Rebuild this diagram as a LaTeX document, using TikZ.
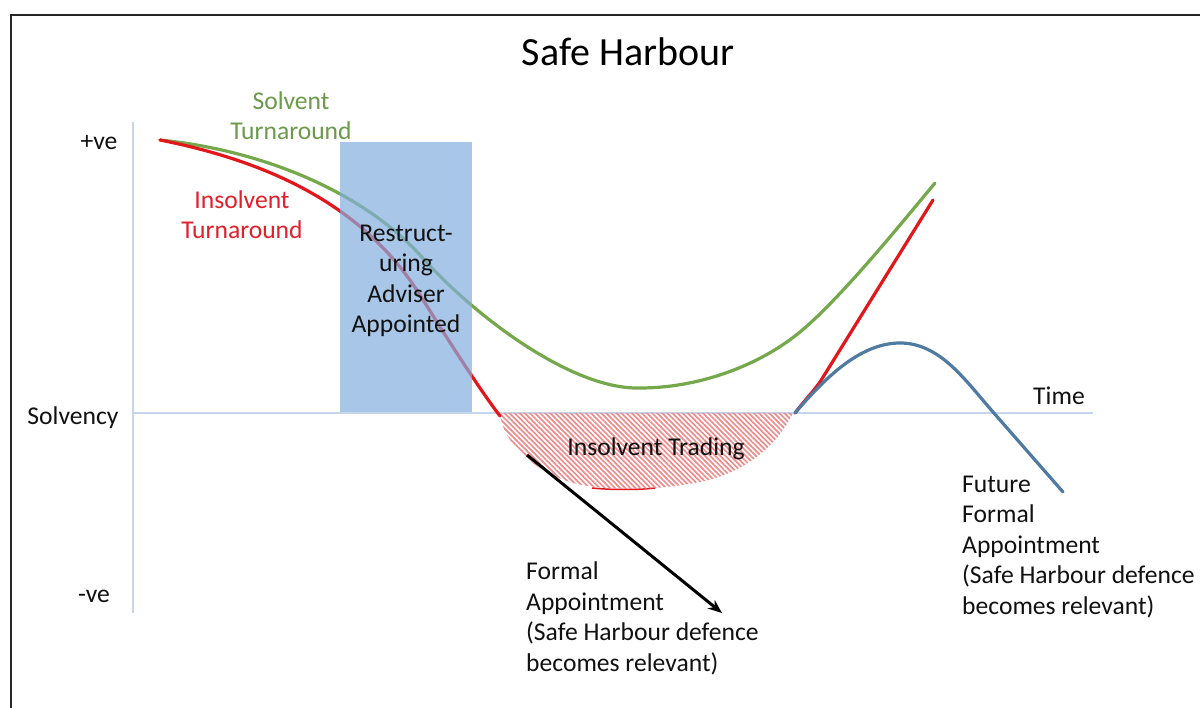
\documentclass[tikz,border=0pt]{standalone}
\usepackage{fontspec}
\setmainfont{Carlito}
\usetikzlibrary{patterns.meta,arrows.meta}
\definecolor{gline}{HTML}{74A84A}
\definecolor{gtext}{HTML}{6A9A4A}
\definecolor{rline}{HTML}{E3161C}
\definecolor{rtext}{HTML}{E0202A}
\definecolor{bline}{HTML}{4F7AA2}
\definecolor{boxfill}{HTML}{84AEDE}
\definecolor{axisc}{HTML}{C6D6EA}
\definecolor{hatchc}{HTML}{EE8C8C}
\definecolor{txt}{HTML}{111111}
\begin{document}
\begin{tikzpicture}[x=1pt,y=-1pt,
  lbl/.style={font=\fontsize{25.6}{30.5}\selectfont, text=txt, inner sep=0pt, align=center, anchor=base},
  lbll/.style={font=\fontsize{25.6}{30.5}\selectfont, text=txt, inner sep=0pt, align=left, anchor=base west},
  curve/.style={line width=3.2pt, line cap=round},
  axisline/.style={draw=axisc, line width=1.5pt}]
\useasboundingbox (0,0) rectangle (1200,708);
\fill[white] (0,0) rectangle (1200,708);
\draw[line width=2pt, black!85] (11,708) -- (11,15) -- (1200,15);

% axes
\coordinate (ytop) at (133,122);
\coordinate (ybot) at (133,613);
\coordinate (xl) at (133,413);
\coordinate (xr) at (1093,413);
\draw[axisline] (ytop) -- (ybot);
\draw[axisline] (xl) -- (xr);

% insolvent trading region
\draw[rline, line width=1.5pt] (592,488) .. controls (610,490) and (640,490) .. (655,488);
\path[pattern={Lines[angle=-45,distance=3.6pt,line width=1.7pt]}, pattern color=hatchc]
  (500,413) .. controls (502,440) and (530,470) .. (573,483)
  .. controls (600,490) and (650,492) .. (700,482)
  .. controls (740,474) and (775,450) .. (793,413) -- cycle;

% curves
\draw[curve, gline] (160,140) .. controls (260,150) and (360,190) .. (420,255)
  .. controls (470,312) and (570,390) .. (640,388)
  .. controls (700,388) and (760,365) .. (800,332)
  .. controls (840,299) and (900,225) .. (935,183);
\draw[curve, rline] (160,140) .. controls (260,160) and (360,200) .. (420,295)
  .. controls (450,343) and (480,390) .. (500,416);
\draw[curve, rline] (795,413) .. controls (805,400) and (812,393) .. (820,382) -- (933,200);
\draw[curve, bline] (795,413) .. controls (825,378) and (860,343) .. (900,343)
  .. controls (940,343) and (965,380) .. (993,412) -- (1063,492);

% restructuring box
\fill[boxfill, fill opacity=0.7] (340,142) rectangle (472,412);
\node[lbl] (rest) at (406,333) {Restruct-\\uring\\Adviser\\Appointed};

% labels
\node[font=\fontsize{40}{48}\selectfont, text=black, inner sep=0pt, anchor=base] (title) at (628,66) {Safe Harbour};
\node[lbl, text=gtext] (solv) at (291,140) {Solvent\\Turnaround};
\node[lbl, text=rtext] (insolv) at (242,239) {Insolvent\\Turnaround};
\node[lbl] (pve) at (99,150) {+ve};
\node[lbl] (solvency) at (73,425) {Solvency};
\node[lbl] (nve) at (94,602) {-ve};
\node[lbl] (time) at (1059,405) {Time};
\node[lbl] (itrade) at (656,456) {Insolvent Trading};
\node[lbll] (formal) at (526,671) {Formal\\Appointment\\(Safe Harbour defence\\becomes relevant)};
\node[lbll] (future) at (962,614) {Future\\Formal\\Appointment\\(Safe Harbour defence\\becomes relevant)};

% arrow
\coordinate (as) at (527,455);
\coordinate (ae) at (722,613);
\draw[line width=3pt, -{Stealth[length=14pt,width=11pt]}] (as) -- (ae);
\end{tikzpicture}
\end{document}
